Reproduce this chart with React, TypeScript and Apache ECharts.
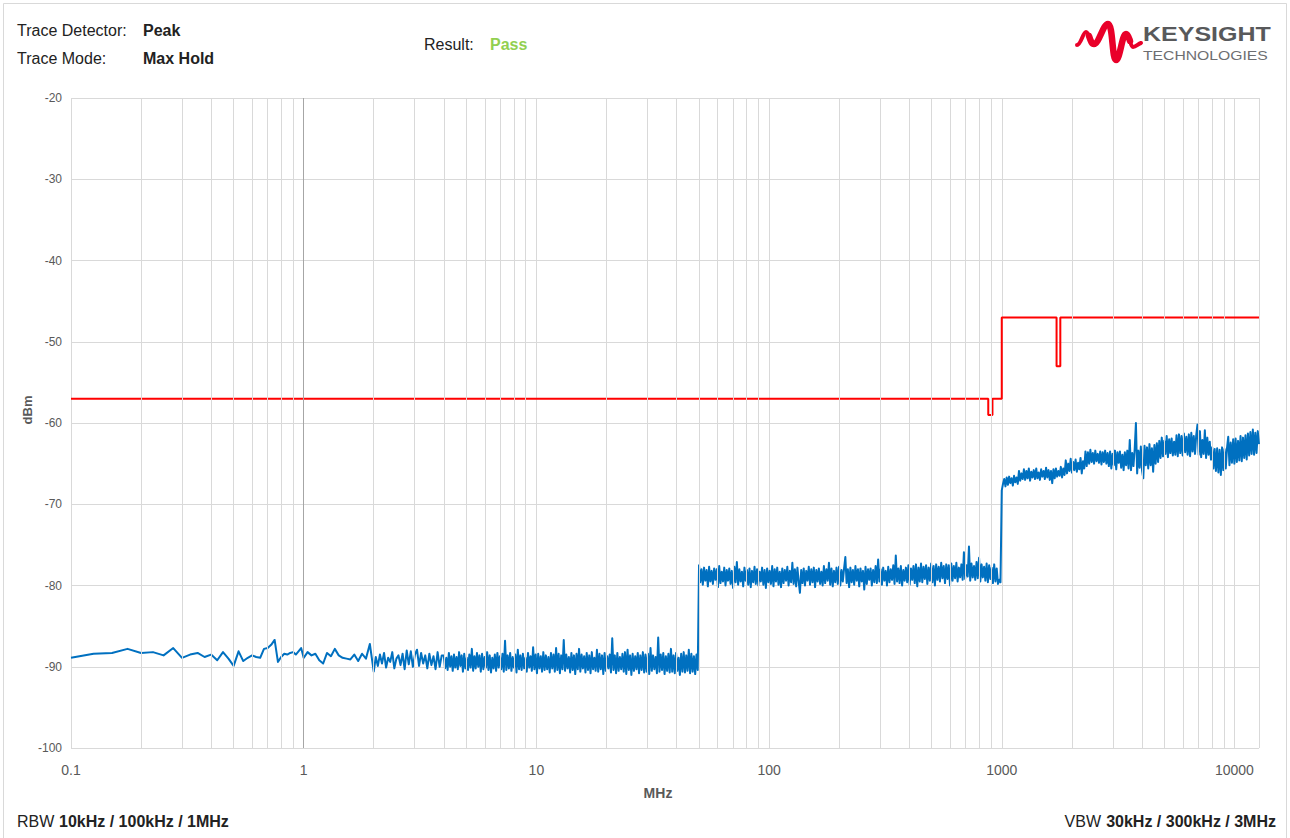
import React, { useEffect, useRef } from 'react';
import * as echarts from 'echarts';

// ---------- data ----------
// 0.1 .. 0.975 MHz, 25 kHz steps
const seg1Values = [
  -88.9, -88.4, -88.3, -87.8, -88.3, -88.2, -88.6, -87.7, -88.9, -88.5,
  -88.3, -88.8, -88.5, -89.2, -88.2, -89.0, -89.9, -88.1, -89.3, -88.9,
  -88.6, -88.8, -88.9, -87.8, -87.7, -87.3, -86.7, -89.4, -88.8, -88.4,
  -88.5, -88.3, -88.2, -88.5, -88.1, -87.7,
];
// 1 .. 2 MHz
const seg2aValues = [
  -88.9, -88.2, -88.6, -88.4, -89.2, -89.6, -88.3, -88.7, -87.8, -88.6,
  -88.9, -89.0, -89.1, -88.5, -89.3, -88.4, -89.0, -87.2,
];
// 2 .. 4 MHz
const seg2bValues = [
  -90.6, -88.8, -89.9, -88.5, -89.6, -88.3, -90.1, -88.9, -89.4, -88.2,
  -90.2, -89.0, -88.6, -89.8, -88.4, -90.3, -88.0, -89.7, -88.1, -90.0,
  -88.5, -87.9, -89.9, -88.3, -89.6, -88.6, -90.2, -88.4, -89.8, -88.7,
  -90.3, -88.2, -90.0, -88.6,
];
// 4 .. 50 MHz
const seg2cValues = [
  -88.6, -90.2, -88.9, -90.4, -88.3, -90.0, -88.7, -90.5, -88.5, -90.1,
  -88.8, -90.3, -88.2, -89.9, -88.6, -90.6, -88.4, -90.2, -88.9, -90.4,
  -88.5, -90.1, -87.8, -90.5, -88.7, -90.2, -88.3, -90.0, -88.6, -90.6,
  -88.4, -90.3, -88.8, -90.1, -88.2, -90.4, -88.6, -90.7, -88.9, -90.2,
  -88.5, -90.5, -88.3, -90.1, -88.7, -90.3, -88.4, -90.6, -86.8, -90.4,
  -88.6, -90.2, -88.3, -90.5, -88.8, -90.1, -88.5, -90.7, -87.9, -90.3,
  -88.6, -90.4, -88.4, -90.2, -88.9, -90.6, -88.3, -90.1, -88.7, -90.5,
  -87.6, -90.3, -88.5, -90.8, -88.4, -90.2, -88.7, -90.6, -88.2, -90.4,
  -88.6, -90.3, -88.8, -90.7, -88.3, -90.2, -88.5, -90.6, -87.7, -90.4,
  -88.4, -90.8, -88.6, -90.3, -86.7, -90.5, -88.5, -90.2, -88.8, -90.7,
  -88.3, -90.4, -88.6, -90.9, -88.4, -90.3, -87.8, -90.6, -88.5, -90.2,
  -88.7, -90.7, -88.3, -90.4, -88.6, -90.8, -88.2, -90.3, -88.9, -90.5,
  -87.9, -90.6, -88.4, -90.3, -88.6, -90.9, -88.3, -90.5, -88.7, -90.2,
  -88.5, -90.7, -86.5, -90.4, -88.6, -90.8, -88.3, -90.5, -88.8, -90.3,
  -88.4, -90.6, -88.2, -90.9, -87.9, -90.4, -88.6, -91.0, -88.4, -90.5,
  -88.7, -90.3, -88.3, -90.8, -88.6, -90.4, -88.2, -90.7, -88.5, -90.6,
  -88.4, -90.9, -87.7, -90.5, -88.6, -90.3, -88.8, -90.8, -86.4, -90.6,
  -88.5, -90.4, -88.3, -90.9, -88.7, -90.5, -88.4, -90.7, -87.8, -90.6,
  -88.6, -90.8, -88.3, -90.5, -88.9, -91.0, -88.4, -90.6, -88.2, -90.7,
  -88.6, -90.5, -87.9, -90.8, -88.4, -90.6, -88.7, -90.9, -88.5, -90.4,
];
// 50 .. 1000 MHz
const seg3Values = [
  -77.5, -79.6, -78.0, -79.9, -77.8, -79.4, -78.1, -80.1, -77.7, -79.5,
  -78.2, -79.8, -77.9, -79.3, -78.0, -80.2, -77.6, -79.7, -78.3, -79.5,
  -77.8, -80.0, -78.1, -79.4, -77.9, -79.8, -78.2, -80.3, -77.7, -79.6,
  -77.1, -79.9, -78.0, -79.5, -78.3, -80.1, -77.8, -79.4, -78.1, -79.9,
  -77.9, -80.2, -78.2, -79.6, -77.7, -79.8, -78.0, -80.0, -78.3, -79.5,
  -77.8, -79.9, -78.1, -80.3, -77.9, -79.6, -78.2, -79.8, -77.6, -80.1,
  -78.0, -79.5, -77.8, -79.9, -78.3, -80.2, -77.9, -79.7, -78.1, -79.4,
  -77.7, -80.0, -78.2, -79.6, -77.2, -79.8, -78.0, -80.1, -77.8, -79.5,
  -80.9, -78.1, -79.7, -77.9, -80.0, -78.2, -79.4, -77.7, -79.9, -78.0,
  -79.6, -77.8, -80.2, -78.1, -79.5, -77.9, -79.8, -78.3, -80.0, -77.6,
  -79.7, -78.0, -79.4, -77.2, -79.9, -77.9, -80.1, -78.2, -79.6, -77.8,
  -79.8, -77.7, -80.0, -78.1, -79.5, -77.9, -76.5, -79.7, -78.0, -80.2,
  -77.8, -79.6, -78.1, -79.9, -77.6, -79.4, -78.0, -80.1, -77.9, -79.5,
  -78.2, -80.5, -77.7, -79.8, -78.0, -79.3, -77.9, -80.0, -78.1, -79.6,
  -77.6, -79.7, -76.8, -79.5, -78.0, -79.9, -77.8, -79.4, -78.2, -80.0,
  -77.7, -79.6, -78.0, -79.3, -77.5, -79.8, -76.3, -79.5, -77.9, -79.7,
  -77.6, -80.0, -78.1, -79.4, -77.8, -79.6, -77.5, -79.9, -77.9, -79.3,
  -77.6, -79.7, -77.4, -80.1, -77.8, -79.5, -77.3, -79.6, -77.7, -79.2,
  -77.5, -79.8, -77.8, -79.4, -77.3, -79.6, -77.6, -80.0, -77.4, -79.3,
  -77.7, -79.5, -77.2, -79.1, -77.6, -79.7, -77.4, -79.2, -77.5, -80.0,
  -77.3, -79.4, -77.6, -79.1, -77.2, -79.5, -77.8, -79.0, -77.4, -79.3,
  -75.9, -79.2, -77.5, -78.9, -75.2, -79.4, -77.3, -79.0, -77.6, -79.3,
  -77.1, -79.1, -76.6, -79.5, -77.4, -79.0, -77.7, -79.4, -77.3, -79.6,
  -77.5, -79.2, -77.8, -79.7, -77.4, -79.5, -77.9, -79.8, -79.3, -79.6,
];
// 1000 .. 12750 MHz
const seg4Values = [
  -68.3, -67.5, -66.9, -67.8, -66.7, -67.6, -66.6, -67.4, -66.8, -67.7,
  -66.5, -67.3, -66.7, -67.5, -65.9, -67.1, -66.2, -66.9, -65.7, -67.0,
  -65.9, -66.8, -65.6, -67.1, -66.0, -66.7, -65.8, -66.9, -65.6, -66.8,
  -66.1, -67.0, -65.7, -66.6, -65.9, -66.9, -65.5, -66.7, -65.8, -67.0,
  -65.9, -67.4, -65.7, -66.8, -65.6, -66.6, -65.9, -66.5, -65.4, -66.7,
  -65.6, -66.4, -64.6, -66.2, -65.0, -65.9, -64.4, -66.1, -64.8, -65.8,
  -64.5, -66.0, -64.9, -65.7, -64.3, -66.2, -64.7, -65.6, -63.5, -65.3,
  -63.6, -65.0, -63.3, -64.8, -63.7, -65.0, -63.4, -64.7, -63.8, -64.9,
  -63.5, -65.1, -63.6, -64.8, -63.4, -65.0, -63.7, -65.3, -63.5, -65.6,
  -63.8, -65.2, -63.4, -65.7, -63.6, -64.9, -63.5, -65.5, -63.9, -65.8,
  -63.6, -65.2, -63.4, -65.6, -62.1, -65.8, -63.7, -65.3, -63.2, -60.0,
  -66.2, -63.4, -65.5, -62.9, -65.9, -66.8, -62.8, -65.2, -63.0, -65.6,
  -62.6, -65.2, -63.1, -66.0, -62.7, -65.0, -62.5, -64.8, -62.2, -64.3,
  -61.8, -64.1, -62.2, -63.8, -61.6, -64.2, -62.0, -63.7, -61.9, -64.0,
  -62.3, -63.9, -61.5, -64.1, -61.4, -63.7, -61.6, -64.0, -61.3, -63.6,
  -61.7, -63.9, -61.4, -64.1, -61.2, -63.5, -61.6, -63.8, -61.5, -60.2,
  -63.9, -61.0, -64.2, -62.1, -63.8, -60.9, -64.3, -61.8, -63.9, -62.3,
  -64.5, -63.0, -65.6, -63.2, -65.9, -63.1, -66.1, -63.3, -66.4, -63.0,
  -65.8, -63.2, -65.6, -63.1, -61.7, -65.2, -62.4, -64.9, -62.0, -65.0,
  -61.9, -64.8, -62.2, -64.6, -61.6, -64.7, -61.8, -64.3, -61.5, -64.5,
  -61.3, -64.0, -61.1, -63.8, -60.8, -63.9, -61.2, -63.7, -61.0, -62.6,
];

const limitFreqs = [0.1, 875, 875, 912, 912, 1000, 1000, 1720, 1720, 1785, 1785, 12750];
const limitValues = [-57, -57, -59, -59, -57, -57, -47, -47, -53, -53, -47, -47];

const xTickLabels = ['0.1', '1', '10', '100', '1000', '10000'];
const minorGridFreqs = [
  0.2, 0.3, 0.4, 0.5, 0.6, 0.7, 0.8, 0.9,
  2, 3, 4, 5, 6, 7, 8, 9,
  20, 30, 40, 50, 60, 70, 80, 90,
  200, 300, 400, 500, 600, 700, 800, 900,
  2000, 3000, 4000, 5000, 6000, 7000, 8000, 9000,
];

const FONT = '"Liberation Sans", Arial, Helvetica, sans-serif';

const WAVE_FULL =
  'M0,26 C4,26 6,13 9,13 C12,13 14,25 17,25 C22,25 26,5 31,5 C36,5 35,41 39,41 C43,41 45,15 49,15 C53,15 53,28 56,28 C59,28 61,25 64,24';
const WAVE_CORE =
  'M12,17 C14,23 15,25 17,25 C22,25 26,5 31,5 C36,5 35,41 39,41 C43,41 45,15 49,15 C51,15 52,19 53,22';
echarts.graphic.registerShape('keysightWaveFull', echarts.graphic.extendPath(WAVE_FULL, {}));
echarts.graphic.registerShape('keysightWaveCore', echarts.graphic.extendPath(WAVE_CORE, {}));

function linSweep(start: number, step: number, values: number[]) {
  return values.map((v, i) => [start + i * step, v]);
}
function logSweep(start: number, stop: number, values: number[], inclusive = false) {
  const n = inclusive ? values.length - 1 : values.length;
  return values.map((v, i) => [start * Math.pow(stop / start, i / n), v]);
}

export default function App() {
  const ref = useRef<HTMLDivElement>(null);
  useEffect(() => {
    if (!ref.current) return;
    const chart = echarts.init(ref.current, undefined, { renderer: 'svg' });

    const trace = [
      ...linSweep(0.1, 0.025, seg1Values),
      ...logSweep(1, 2, seg2aValues),
      ...logSweep(2, 4, seg2bValues),
      ...logSweep(4, 50, seg2cValues),
      ...logSweep(50, 1000, seg3Values),
      ...logSweep(1000, 12750, seg4Values, true),
    ];
    const limit = limitFreqs.map((f, i) => [f, limitValues[i]]);

    const txt = (x: number, y: number, text: string, extra: any = {}) => ({
      type: 'text',
      x,
      y,
      silent: true,
      style: {
        text,
        fill: '#222222',
        fontSize: 16,
        fontFamily: FONT,
        align: 'left',
        verticalAlign: 'middle',
        ...extra,
      },
    });

    chart.setOption({
      animation: false,
      backgroundColor: '#ffffff',
      grid: { left: 71, right: 31, top: 98, bottom: 90, containLabel: false },
      xAxis: {
        type: 'log',
        logBase: 10,
        min: 0.1,
        max: 12750,
        axisLine: { show: false },
        axisTick: { show: false },
        splitLine: { show: true, lineStyle: { color: '#d9d9d9', width: 1 } },
        axisLabel: {
          color: '#595959',
          fontSize: 14,
          fontFamily: FONT,
          margin: 15,
          formatter: (v: number) => {
            const l = Math.log10(v);
            const r = Math.round(l);
            return Math.abs(l - r) < 1e-6 ? xTickLabels[r + 1] ?? '' : '';
          },
        },
      },
      yAxis: {
        type: 'value',
        min: -100,
        max: -20,
        interval: 10,
        axisLine: { show: false },
        axisTick: { show: false },
        splitLine: { show: true, lineStyle: { color: '#d9d9d9', width: 1 } },
        axisLabel: { color: '#595959', fontSize: 12, fontFamily: FONT, margin: 9 },
      },
      series: [
        {
          type: 'line',
          data: [],
          silent: true,
          z: 1,
          markLine: {
            silent: true,
            symbol: 'none',
            animation: false,
            label: { show: false },
            emphasis: { disabled: true },
            lineStyle: { color: '#d9d9d9', width: 1, type: 'solid' },
            data: [
              ...minorGridFreqs.map((f) => ({ xAxis: f })),
              { xAxis: 1, lineStyle: { color: '#a6a6a6', width: 1, type: 'solid' } },
            ],
          },
        },
        {
          name: 'Limit',
          type: 'line',
          data: limit,
          showSymbol: false,
          symbol: 'none',
          silent: true,
          z: 3,
          lineStyle: { color: '#ff0000', width: 2 },
        },
        {
          name: 'Trace',
          type: 'line',
          data: trace,
          showSymbol: false,
          symbol: 'none',
          silent: true,
          z: 2,
          lineStyle: { color: '#0070c0', width: 2, join: 'round' },
        },
      ],
      graphic: [
        {
          type: 'rect',
          silent: true,
          shape: { x: 3.5, y: 3.5, width: 1283, height: 860 },
          style: { fill: 'none', stroke: '#d9d9d9', lineWidth: 1 },
        },
        txt(17, 30, 'Trace Detector:'),
        txt(143, 30, 'Peak', { fontWeight: 'bold' }),
        txt(17, 58.5, 'Trace Mode:'),
        txt(143, 58.5, 'Max Hold', { fontWeight: 'bold' }),
        txt(424, 44, 'Result:'),
        txt(490, 44, 'Pass', { fontWeight: 'bold', fill: '#92d050' }),
        {
          type: 'keysightWaveFull',
          x: 1077,
          y: 19,
          silent: true,
          style: { fill: 'none', stroke: '#e90029', lineWidth: 4, lineCap: 'round', lineJoin: 'round' },
        },
        {
          type: 'keysightWaveCore',
          x: 1077,
          y: 19,
          silent: true,
          style: { fill: 'none', stroke: '#e90029', lineWidth: 6.5, lineCap: 'round', lineJoin: 'round' },
        },
        {
          type: 'text',
          x: 1143,
          y: 33.5,
          scaleX: 1.19,
          silent: true,
          style: {
            text: 'KEYSIGHT',
            fill: '#58595b',
            fontSize: 21,
            fontWeight: 'bold',
            fontFamily: FONT,
            align: 'left',
            verticalAlign: 'middle',
          },
        },
        {
          type: 'text',
          x: 1143,
          y: 56,
          scaleX: 1.31,
          silent: true,
          style: {
            text: 'TECHNOLOGIES',
            fill: '#6d6e71',
            fontSize: 12,
            fontFamily: FONT,
            align: 'left',
            verticalAlign: 'middle',
          },
        },
        {
          type: 'text',
          x: 27,
          y: 410,
          rotation: Math.PI / 2,
          silent: true,
          style: {
            text: 'dBm',
            fill: '#595959',
            fontSize: 13,
            fontWeight: 'bold',
            fontFamily: FONT,
            align: 'center',
            verticalAlign: 'middle',
          },
        },
        txt(658, 793, 'MHz', { fill: '#595959', fontSize: 14, fontWeight: 'bold', align: 'center' }),
        txt(17, 821, 'RBW'),
        txt(59, 821, '10kHz / 100kHz / 1MHz', { fontWeight: 'bold' }),
        txt(1101, 821, 'VBW', { align: 'right' }),
        txt(1276, 821, '30kHz / 300kHz / 3MHz', { fontWeight: 'bold', align: 'right' }),
      ],
    });

    return () => chart.dispose();
  }, []);

  return (
    <div
      ref={ref}
      style={{ position: 'fixed', left: 0, top: 0, width: 1290, height: 838, background: '#fff' }}
    />
  );
}
